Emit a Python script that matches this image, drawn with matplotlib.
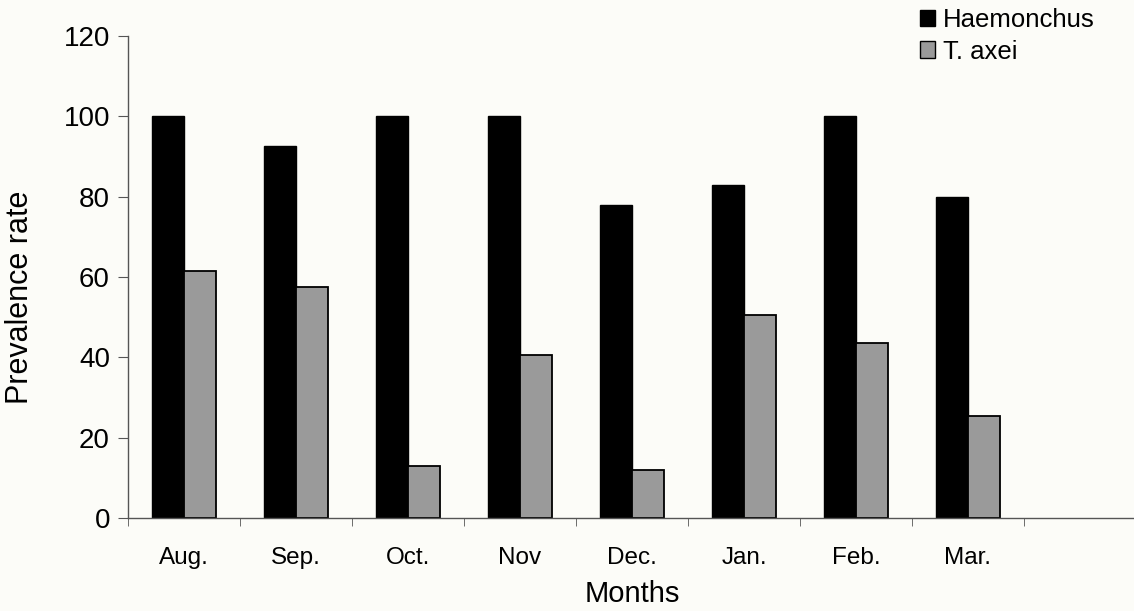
import numpy as np
import matplotlib.pyplot as plt
from matplotlib.patches import Patch

plt.rcParams['font.family'] = ['Liberation Sans', 'DejaVu Sans']

months = ["Aug.", "Sep.", "Oct.", "Nov", "Dec.", "Jan.", "Feb.", "Mar."]
haemonchus = [100, 92.5, 100, 100, 78, 83, 100, 80]
t_axei = [61.5, 57.5, 13, 40.5, 12, 50.5, 43.5, 25.5]

bg = "#fcfcf8"
gray = "#9a9a9a"
axis_col = "#555555"

fig = plt.figure(figsize=(11.34, 6.11), dpi=100, facecolor=bg)
ax = fig.add_axes([128 / 1134, 1 - 518 / 611, (1136 - 128) / 1134, (518 - 36) / 611])
ax.set_facecolor(bg)

x = np.arange(len(months))
w = 0.29
ax.bar(x - w / 2, haemonchus, w, color="black", edgecolor="black", linewidth=1)
ax.bar(x + w / 2, t_axei, w, color=gray, edgecolor="black", linewidth=1.3)

# 9 category slots, last one left empty like the original
ax.set_xlim(-0.5, len(months) + 0.5)
ax.set_ylim(0, 120)
ax.set_yticks(range(0, 121, 20))
ax.set_xticks(x)
ax.set_xticklabels(months, fontsize=17.5)
ax.set_xticks(np.arange(-0.5, len(months) + 0.5, 1), minor=True)
ax.tick_params(axis="x", which="major", length=0, pad=21)
ax.tick_params(axis="x", which="minor", length=6, color=axis_col, direction="out")
ax.tick_params(axis="y", labelsize=20, length=7, color=axis_col, pad=6)

for s in ["top", "right"]:
    ax.spines[s].set_visible(False)
for s in ["left", "bottom"]:
    ax.spines[s].set_color(axis_col)
    ax.spines[s].set_linewidth(1.0)

ax.set_ylabel("Prevalence rate", fontsize=22)
ax.yaxis.set_label_coords(-0.092, 0.458)
ax.set_xlabel("Months", fontsize=21, labelpad=8)

handles = [Patch(facecolor="black", edgecolor="black"),
           Patch(facecolor=gray, edgecolor="black")]
fig.legend(handles, ["Haemonchus", "T. axei"], loc="upper left",
           bbox_to_anchor=(920 / 1134, 1 - 8 / 611), frameon=False, fontsize=18.5,
           handlelength=0.6, handleheight=0.6, handletextpad=0.3,
           labelspacing=0.3, borderaxespad=0, borderpad=0)

plt.savefig("out.png", dpi=100, facecolor=bg)
plt.close()
